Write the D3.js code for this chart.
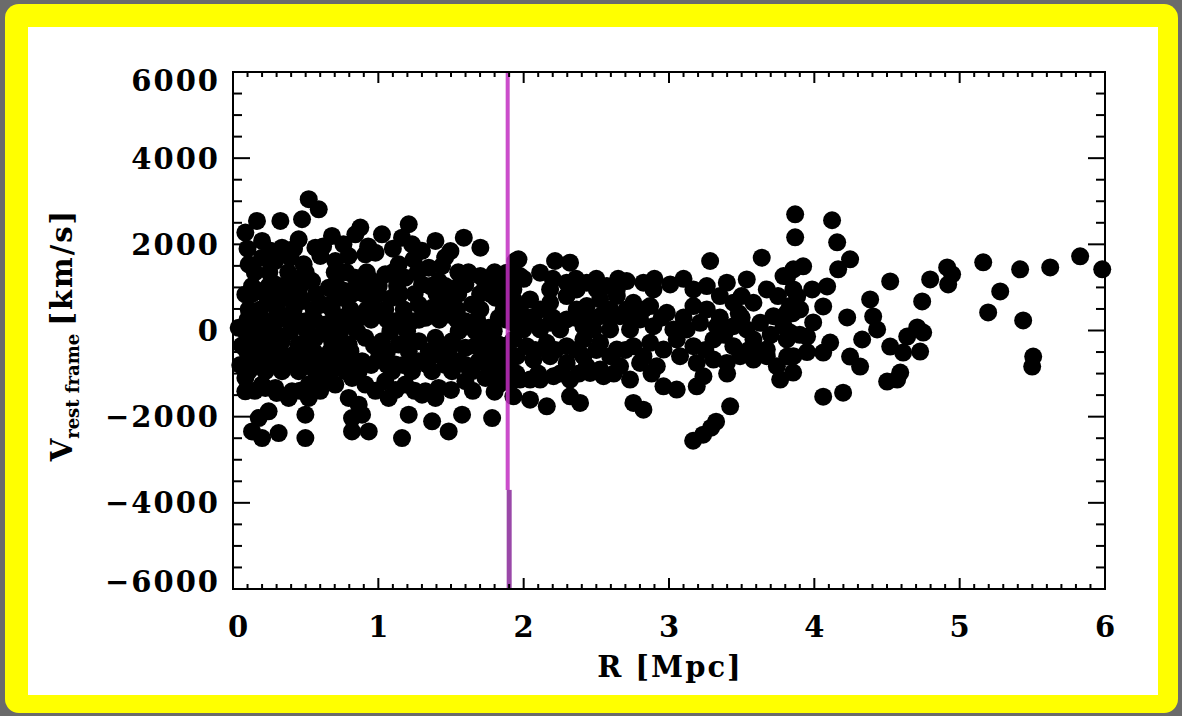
<!DOCTYPE html>
<html><head><meta charset="utf-8">
<script src="https://cdn.jsdelivr.net/npm/d3@7"></script>
<style>
html,body{margin:0;padding:0;background:#6b6b6b;}
svg{display:block;}
text{font-family:"DejaVu Serif",serif;font-weight:bold;fill:#000;}
</style></head>
<body>
<svg id="chart" width="1182" height="716"></svg>
<script>
// ---- data: [R (Mpc), v (km/s)] ----
const pointsInner = [
[0.521,3047],[0.590,2814],
[0.165,2543],[0.326,2543],[0.475,2582],[0.876,2388],[1.209,2466],
[0.085,2272],[0.200,2078],[0.337,1923],[0.452,2117],[0.567,1923],[0.681,2195],[0.842,2233],[1.025,2233],[1.163,2155],[1.232,2000],[1.393,2078],[1.496,1845],[1.588,2155],[1.702,1923],
[0.108,1535],[0.200,1690],[0.291,1613],[0.395,1690],[0.486,1535],[0.601,1729],[0.704,1613],[0.796,1729],[0.911,1768],[0.980,1807],[1.140,1535],[1.243,1651],[1.347,1458],[1.438,1497],[1.702,1264],[1.943,1613],
[0.085,837],[0.177,915],[0.291,1070],[0.406,1225],[0.544,1148],[0.658,992],[0.773,915],[0.842,1225],[0.957,1148],[1.048,1303],[1.186,1225],[1.301,1070],[1.415,1148],[1.507,915],[1.599,1070],[1.828,1070],[1.897,1225],
[0.245,682],[0.360,760],[0.475,682],[0.613,605],[0.750,760],[0.957,682],[1.094,760],[1.278,605],[1.370,527],[1.484,682],[1.645,605],[1.805,760],
[0.039,62],[0.268,217],[0.360,295],[0.498,217],[0.635,140],[0.750,295],[0.865,295],[1.003,372],[1.117,217],[1.232,217],[1.324,295],[1.484,372],[1.599,217],[1.760,62],[1.828,295],
[0.131,-248],[0.223,-171],[0.337,-248],[0.452,-326],[0.567,-171],[0.681,-248],[0.796,-326],[0.911,-171],[1.025,-248],[1.140,-326],[1.278,-248],[1.393,-171],[1.507,-248],[1.599,-403],[1.737,-248],[1.828,-326],
[0.154,-713],[0.268,-636],[0.383,-713],[0.498,-558],[0.613,-713],[0.727,-636],[0.888,-713],[1.003,-636],[1.117,-791],[1.278,-713],[1.415,-558],[1.553,-713],[1.691,-713],[1.828,-636],
[0.085,-1101],[0.200,-1256],[0.291,-1334],[0.406,-1411],[0.521,-1256],[0.613,-1101],[0.704,-1256],[0.819,-1101],[0.911,-1256],[1.048,-1178],[1.186,-1256],[1.324,-1411],[1.415,-1334],[1.599,-1178],[1.737,-1101],[1.828,-1256],
[0.085,-1411],[0.223,-1334],[0.383,-1566],[0.521,-1566],[0.796,-1566],[0.865,-1721],[1.071,-1566],[1.301,-1489],[1.393,-1566],
[0.177,-2032],[0.245,-1876],[0.498,-1954],[0.819,-2032],[0.888,-1954],[1.209,-1954],[1.370,-2109],[1.576,-1954],[1.783,-2032],
[0.131,-2342],[0.200,-2497],[0.314,-2380],[0.498,-2497],[0.819,-2342],[0.934,-2342],[1.163,-2497],[1.484,-2342],
[0.131,1031],[0.245,1031],[0.349,1031],[0.463,1031],[0.716,1031],[0.899,1031],[1.003,1031],[1.129,1031],[1.358,1031],[1.461,1031],[1.553,1031],[1.737,1031],[1.863,1031],
[0.108,488],[0.188,488],[0.303,488],[0.418,488],[0.555,488],[0.681,488],[0.808,488],[0.922,488],[1.048,488],[1.175,488],[1.427,488],[1.542,488],[1.702,488],[1.863,488],
[0.085,-16],[0.177,-16],[0.280,-16],[0.395,-16],[0.509,-16],[0.624,-16],[0.739,-16],[0.853,-16],[1.083,-16],[1.198,-16],[1.553,-16],[1.668,-16],[1.794,-16],
[0.096,-481],[0.211,-481],[0.326,-481],[0.440,-481],[0.555,-481],[0.670,-481],[0.808,-481],[1.060,-481],[1.209,-481],[1.347,-481],[1.484,-481],[1.760,-481],[1.874,-481],
[0.108,-946],[0.223,-946],[0.337,-946],[0.452,-946],[0.567,-946],[0.670,-946],[0.773,-946],[0.865,-946],[1.094,-946],[1.232,-946],[1.370,-946],[1.507,-946],[1.645,-946],[1.783,-946],[1.874,-946],
[0.15,1350],[0.25,1350],[0.38,1350],[0.50,1350],[0.70,1350],[0.78,1350],[0.92,1350],[1.10,1350],[1.27,1350],[1.55,1350],[1.62,1350],[1.80,1350],
[0.13,850],[0.22,850],[0.33,850],[0.45,850],[0.57,850],[0.70,850],[0.82,850],[0.90,850],[1.00,850],[1.15,850],[1.25,850],[1.40,850],[1.55,850],[1.70,850],[1.77,850],[1.88,850],
[0.10,250],[0.20,250],[0.31,250],[0.43,250],[0.56,250],[0.69,250],[0.80,250],[0.95,250],[1.06,250],[1.17,250],[1.28,250],[1.42,250],[1.54,250],[1.68,250],[1.88,250],
[0.06,-350],[0.28,-350],[0.51,-350],[0.74,-350],[0.97,-350],[1.20,-350],[1.45,-350],[1.67,-350],[1.88,-350],
[0.05,-800],[0.22,-800],[0.33,-800],[0.45,-800],[0.56,-800],[0.69,-800],[0.80,-800],[0.95,-800],[1.06,-800],[1.17,-800],[1.34,-800],[1.46,-800],[1.60,-800],[1.75,-800],[1.88,-800],
[0.15,-1400],[0.30,-1450],[0.46,-1400],[0.60,-1400],[0.98,-1400],[1.12,-1380],[1.25,-1400],[1.50,-1380],[1.65,-1400],[1.80,-1420],
[0.10,1900],[0.26,1850],[0.42,1900],[0.62,1950],[0.76,2000],[0.93,1950],[1.10,1900],[1.30,1850],[1.46,1700]
];
const pointsMid = [
[1.964,1651],[2.216,1613],[2.319,1574],[3.283,1613],[3.638,1690],[3.856,1419],
[1.883,1341],[1.975,1264],[2.113,1341],[2.296,1109],[2.434,1109],[2.572,1031],[2.709,1148],[2.824,1109],[3.008,1070],[3.168,954],[3.260,1031],[3.398,1109],[3.535,1186],[3.673,954],[3.788,1264],[3.856,954],
[1.929,721],[2.044,721],[2.182,644],[2.296,799],[2.434,566],[2.526,721],[2.641,799],[2.755,644],[2.870,566],[2.985,411],[3.168,566],[3.260,488],[3.443,644],[3.581,644],[3.719,333],[3.833,566],
[1.929,178],[2.067,256],[2.182,178],[2.296,256],[2.411,101],[2.526,333],[2.663,333],[2.801,256],[2.893,101],[3.030,23],[3.214,178],[3.329,101],[3.443,101],[3.627,178],[3.788,101],
[1.929,-209],[2.021,-364],[2.159,-287],[2.296,-364],[2.411,-209],[2.526,-287],[2.641,-442],[2.755,-364],[2.870,-287],[2.962,-442],[3.053,-209],[3.168,-364],[3.306,-209],[3.443,-364],[3.581,-209],[3.673,-442],[3.810,-209],
[1.906,-830],[2.067,-675],[2.182,-597],[2.296,-752],[2.434,-830],[2.526,-907],[2.663,-830],[2.801,-752],[2.916,-830],[3.191,-752],[3.306,-675],[3.398,-752],[3.581,-675],[3.742,-830],[3.856,-597],
[1.906,-1217],[2.044,-1140],[2.205,-1062],[2.319,-1140],[2.457,-985],[2.549,-1062],[2.732,-1140],[2.962,-1295],[3.053,-1372],[3.191,-1295],[3.237,-1062],[3.765,-1140],
[1.929,-1527],[2.044,-1605],[2.159,-1760],[2.319,-1527],[2.388,-1682],[2.755,-1682],[2.824,-1838],[3.421,-1760],
[3.166,-2559],[3.235,-2419],[3.290,-2256],[3.324,-2117],
[1.929,954],[2.182,954],[2.365,954],[2.503,954],[2.641,954],[2.893,954],
[1.975,488],[2.113,488],[2.365,488],[2.595,488],[2.709,488],[2.824,488],
[1.998,23],[2.113,23],[2.251,23],[2.480,23],[2.595,23],[2.732,23],[3.122,23],[3.535,23],
[1.952,-597],[2.411,-597],[2.595,-597],[2.824,-597],[3.076,-597],[3.489,-597],[3.673,-597],
[1.975,-1140],[2.113,-1140],
[2.00,1200],[2.20,1200],[2.36,1200],[2.50,1200],[2.65,1200],[2.90,1200],[3.10,1200],
[1.95,300],[2.05,300],[2.20,300],[2.35,300],[2.45,300],[2.60,300],[2.75,300],[2.95,300],[3.10,300],[3.35,300],[3.50,300],
[2.08,-450],[2.22,-450],[2.36,-450],[2.50,-450],[2.70,-450],[3.25,-450],[3.55,-450],
[1.95,-1000],[2.10,-1000],[2.25,-1000],[2.38,-1000],[2.62,-1000],[2.88,-1000],[3.40,-1000],
[3.35,800],[3.50,800],[3.75,800],[3.38,-100],[3.70,-100],[3.90,-100],[3.60,-500],[3.95,-500],[3.48,400],[3.85,400]
];
const pointsOuter = [
[3.868,2698],[4.122,2559],[3.868,2163],[4.157,2047],[4.246,1651],[4.164,1419],[3.923,1489],[3.813,1256],
[4.088,1023],[3.985,954],[3.882,791],[3.902,488],[4.061,558],[4.226,302],[3.992,186],[3.813,419],
[3.833,-47],[3.950,-140],[4.109,-279],[4.246,-605],[4.315,-837],[4.061,-512],[3.813,-605],[3.854,-977],
[4.329,-209],[4.384,721],[4.405,326],[4.432,23],[4.522,1140],[4.742,675],[4.797,1186],[4.914,1465],
[4.948,1303],[4.921,1070],[5.162,1582],[5.279,907],[5.196,419],[5.416,1419],[5.437,233],[5.506,-605],
[5.499,-837],[5.623,1465],[5.829,1721],[5.981,1419],
[4.708,70],[4.639,-140],[4.749,-47],[4.522,-372],[4.611,-512],[4.728,-488],[4.591,-977],[4.501,-1186],
[4.570,-1140],[4.061,-1535],[4.198,-1442]
];
const xTickValues = [0,1,2,3,4,5,6];
const yTickValues = [-6000,-4000,-2000,0,2000,4000,6000];
const markerR = 1.89;          // vertical reference line position (Mpc)
const markerLowerV = -3700;    // where the thicker lower segment begins

// ---- drawing ----
const svg = d3.select("#chart");
svg.append("rect").attr("x",5).attr("y",4).attr("width",1173).attr("height",709)
   .attr("rx",14).attr("fill","#ffff00");
svg.append("rect").attr("x",28).attr("y",27).attr("width",1130).attr("height",668).attr("fill","#fff");

const x = d3.scaleLinear().domain([0,6]).range([233,1105]);
const y = d3.scaleLinear().domain([-6000,6000]).range([589,72]);

const g = svg.append("g");
const all = pointsInner.concat(pointsMid, pointsOuter);
g.selectAll("circle.pt").data(all).enter().append("circle")
  .attr("class","pt").attr("cx",d=>x(d[0])).attr("cy",d=>y(d[1])).attr("r",9).attr("fill","#000");

// reference line
g.append("line").attr("x1",x(markerR)).attr("x2",x(markerR)).attr("y1",y(6000)).attr("y2",y(markerLowerV))
  .attr("stroke","#c22fc2").attr("stroke-width",4).attr("opacity",0.85);
g.append("line").attr("x1",x(markerR)+1.5).attr("x2",x(markerR)+1.5).attr("y1",y(markerLowerV)).attr("y2",y(-6000))
  .attr("stroke","#9a48a8").attr("stroke-width",5);

// frame
const fr = svg.append("g").attr("stroke","#000").attr("fill","none");
fr.append("rect").attr("x",x(0)).attr("y",y(6000)).attr("width",x(6)-x(0)).attr("height",y(-6000)-y(6000)).attr("stroke-width",2);

const xMinor = d3.range(0,60.5,1).map(i=>i/10);
xMinor.forEach(v=>{
  const major = Math.abs(v-Math.round(v))<1e-9;
  const L = major?11:5;
  fr.append("line").attr("x1",x(v)).attr("x2",x(v)).attr("y1",y(-6000)).attr("y2",y(-6000)-L).attr("stroke-width",2);
  fr.append("line").attr("x1",x(v)).attr("x2",x(v)).attr("y1",y(6000)).attr("y2",y(6000)+L).attr("stroke-width",2);
});
const yMinor = d3.range(-12,12.5,1).map(i=>i*500);
yMinor.forEach(v=>{
  const major = v%2000===0;
  const L = major?17:9;
  fr.append("line").attr("x1",x(0)).attr("x2",x(0)+L).attr("y1",y(v)).attr("y2",y(v)).attr("stroke-width",2);
  fr.append("line").attr("x1",x(6)).attr("x2",x(6)-L).attr("y1",y(v)).attr("y2",y(v)).attr("stroke-width",2);
});

// tick labels
const fmt = v => (v<0?"\u2212":"") + Math.abs(v);
svg.selectAll("text.yl").data(yTickValues).enter().append("text").attr("class","yl")
  .attr("x",220).attr("y",d=>{let p=y(d); if(d===6000)p+=9; if(d===-6000)p-=7; return p;})
  .attr("dy","0.36em").attr("text-anchor","end").attr("font-size",29).attr("letter-spacing",2)
  .text(fmt);
svg.selectAll("text.xl").data(xTickValues).enter().append("text").attr("class","xl")
  .attr("x",d=>x(d)+(d===0?5:0)).attr("y",637).attr("text-anchor","middle").attr("font-size",29)
  .text(d=>d);

// axis titles
svg.append("text").attr("x",670).attr("y",677).attr("text-anchor","middle").attr("font-size",29)
  .attr("letter-spacing",2).text("R [Mpc]");
const yt = svg.append("text").attr("transform","translate(72,335) rotate(-90)").attr("text-anchor","middle").attr("font-size",29);
yt.append("tspan").text("V");
yt.append("tspan").attr("font-size",18).attr("dy",7).text("rest frame");
yt.append("tspan").attr("dy",-7).attr("dx",8).attr("letter-spacing",2).text("[km/s]");
</script>
</body></html>
